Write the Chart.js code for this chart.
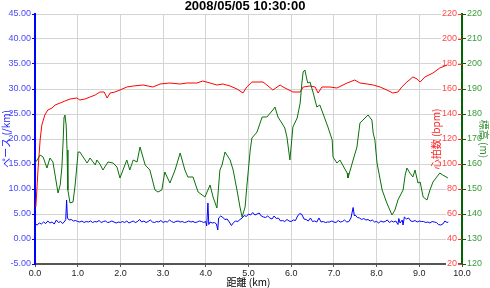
<!DOCTYPE html>
<html>
<head>
<meta charset="utf-8">
<script src="https://cdn.jsdelivr.net/npm/chart.js@4.4.0/dist/chart.umd.min.js"></script>
<style>
html,body{margin:0;padding:0;background:#fff;}
#wrap{width:490px;height:288px;position:relative;}
</style>
</head>
<body>
<div id="wrap"><canvas id="c" width="490" height="288"></canvas></div>
<script>
const chartTitle = '2008/05/05 10:30:00';
const xTitle = '距離 (km)';
const paceTitle = 'ペース (/km)';
const hrTitle = '心拍数 (bpm)';
const elevTitle = '標高 (m)';

// Pace (min/km) series
const paceKm = [0.00,0.01,0.05,0.10,0.15,0.20,0.25,0.30,0.35,0.40,0.45,0.50,0.55,0.60,0.65,0.70,0.72,0.74,0.76,0.80,0.85,0.90,0.95,1.00,1.05,1.10,1.15,1.20,1.25,1.30,1.35,1.40,1.45,1.50,1.55,1.60,1.65,1.70,1.75,1.80,1.85,1.90,1.95,2.00,2.05,2.10,2.15,2.20,2.25,2.30,2.35,2.40,2.45,2.50,2.55,2.60,2.65,2.70,2.75,2.80,2.85,2.90,2.95,3.00,3.05,3.10,3.15,3.20,3.25,3.30,3.35,3.40,3.45,3.50,3.55,3.60,3.65,3.70,3.75,3.80,3.85,3.90,3.95,4.00,4.02,4.05,4.07,4.10,4.15,4.20,4.25,4.28,4.30,4.35,4.40,4.45,4.50,4.55,4.60,4.65,4.70,4.75,4.80,4.85,4.90,4.95,5.00,5.05,5.10,5.15,5.20,5.25,5.30,5.35,5.40,5.45,5.50,5.55,5.60,5.65,5.70,5.75,5.80,5.85,5.90,5.95,6.00,6.05,6.10,6.15,6.20,6.25,6.30,6.35,6.40,6.45,6.50,6.55,6.60,6.65,6.70,6.75,6.80,6.85,6.90,6.95,7.00,7.05,7.10,7.15,7.20,7.25,7.30,7.35,7.40,7.45,7.48,7.50,7.55,7.60,7.65,7.70,7.75,7.80,7.85,7.90,7.95,8.00,8.05,8.10,8.15,8.20,8.25,8.30,8.35,8.40,8.45,8.50,8.52,8.55,8.60,8.62,8.65,8.70,8.75,8.80,8.85,8.90,8.95,9.00,9.05,9.10,9.15,9.20,9.25,9.30,9.35,9.40,9.45,9.50,9.55,9.60,9.65,9.68];
const paceValues = [17.0,3.0,2.8,3.2,3.0,3.4,3.1,3.6,3.2,3.4,3.0,3.8,3.3,3.5,3.1,3.6,3.9,7.8,4.2,3.8,3.9,3.6,3.7,3.5,3.4,3.6,3.3,3.5,3.4,3.6,3.3,3.5,3.4,3.7,3.3,3.5,3.6,3.3,3.4,3.6,3.4,3.2,3.4,3.3,3.5,3.3,3.6,3.2,3.4,3.6,3.3,3.5,3.9,3.4,3.6,3.3,3.5,3.8,3.4,3.3,3.5,3.4,3.7,3.3,3.5,3.4,3.8,3.5,3.3,3.5,3.6,3.4,3.5,3.3,3.4,3.6,3.4,3.5,3.3,3.4,3.6,3.5,3.3,3.5,2.6,7.2,2.9,3.4,3.2,3.3,3.0,1.8,4.2,4.6,4.3,3.9,4.0,3.4,2.7,3.3,3.6,3.5,3.9,4.2,4.7,4.5,5.0,4.8,5.3,4.8,5.0,5.2,4.6,4.4,4.3,4.6,4.2,4.0,4.6,4.1,4.2,3.6,3.7,3.5,3.9,3.6,3.5,3.8,3.7,4.6,5.1,4.9,4.0,3.9,3.6,4.2,3.5,3.6,3.4,4.2,3.4,3.5,3.3,3.4,3.4,3.6,3.4,3.3,3.7,3.4,3.5,3.8,3.4,3.5,4.2,6.3,4.6,4.8,4.3,4.2,3.9,4.1,3.8,3.9,3.6,3.8,3.4,3.5,3.2,3.6,3.4,3.5,3.8,3.3,3.6,3.4,3.6,2.9,4.1,3.2,3.8,2.8,4.4,4.0,4.2,3.6,3.5,3.7,3.4,3.6,3.5,3.5,3.3,3.4,3.2,3.5,3.4,3.3,2.9,2.8,3.0,3.6,3.3,3.4];

// Heart rate (bpm) series
const hrKm = [0.02,0.07,0.12,0.16,0.23,0.30,0.40,0.47,0.59,0.70,0.82,0.98,1.05,1.17,1.29,1.41,1.52,1.62,1.69,1.76,1.87,1.99,2.15,2.30,2.53,2.65,2.76,2.93,3.16,3.40,3.56,3.79,3.93,4.10,4.26,4.40,4.57,4.73,4.87,4.96,5.08,5.34,5.43,5.57,5.74,5.81,6.04,6.21,6.28,6.44,6.56,6.63,6.72,6.91,7.07,7.31,7.49,7.61,7.78,7.92,8.08,8.24,8.38,8.50,8.59,8.71,8.85,8.95,9.02,9.13,9.32,9.48,9.65];
const hrValues = [65.6,95.2,119.2,131.2,139.2,143.2,144.8,147.2,148.8,150.4,152.0,152.8,151.2,152.0,153.6,155.2,157.6,157.6,152.8,156.8,157.6,159.2,161.6,162.4,163.2,162.4,161.6,164.0,164.8,164.0,164.8,164.8,166.4,164.8,163.2,164.0,162.4,160.0,156.8,161.6,165.6,165.6,163.2,159.2,163.2,161.6,157.6,157.6,161.6,162.4,161.6,156.8,161.6,161.6,160.8,164.8,167.2,164.8,164.0,163.2,161.6,159.2,156.8,157.6,161.6,165.6,169.6,168.0,165.6,169.6,172.8,176.8,179.2];

// Elevation (m) series
const elevKm = [0.00,0.05,0.12,0.19,0.28,0.35,0.42,0.47,0.54,0.59,0.63,0.66,0.68,0.70,0.73,0.75,0.77,0.82,0.89,0.94,1.01,1.05,1.22,1.29,1.36,1.41,1.45,1.52,1.59,1.71,1.83,1.92,1.99,2.15,2.22,2.30,2.39,2.46,2.58,2.69,2.81,2.88,2.97,3.04,3.16,3.28,3.40,3.51,3.58,3.70,3.82,3.98,4.10,4.17,4.26,4.33,4.38,4.45,4.57,4.64,4.73,4.80,4.85,4.92,4.96,5.04,5.08,5.20,5.32,5.43,5.57,5.62,5.69,5.78,5.85,5.90,5.97,6.04,6.14,6.21,6.25,6.28,6.32,6.37,6.39,6.44,6.51,6.60,6.67,6.74,6.86,6.96,6.98,7.07,7.14,7.31,7.33,7.45,7.54,7.61,7.80,7.89,7.92,7.96,8.01,8.13,8.24,8.36,8.43,8.50,8.62,8.67,8.71,8.78,8.85,8.90,8.97,9.02,9.09,9.18,9.25,9.32,9.48,9.55,9.67];
const elevValues = [160.4,161.6,163.6,162.8,158.4,162.4,160.8,155.6,148.4,151.6,158.8,169.6,178.8,179.6,175.6,165.6,149.6,144.4,144.8,151.6,164.8,164.8,160.4,162.4,160.8,159.6,161.6,160.0,157.6,160.8,160.4,158.8,154.4,161.6,157.6,161.6,160.8,166.8,159.6,157.6,149.6,148.8,149.6,156.8,152.4,157.6,164.4,157.6,154.8,154.8,148.8,146.8,151.6,146.8,142.4,157.6,159.6,164.8,161.6,157.6,149.6,142.8,138.8,142.8,150.8,165.6,170.4,172.8,178.8,178.8,181.6,182.8,178.8,176.4,174.4,170.8,161.6,174.8,178.4,184.4,192.4,196.8,197.6,193.6,192.4,192.8,188.8,182.8,183.6,180.4,174.8,169.6,162.8,160.4,161.6,156.4,154.4,161.6,166.8,176.4,179.6,177.6,172.4,169.6,160.4,149.6,144.4,139.6,141.6,145.6,149.6,155.6,158.4,156.4,154.8,157.6,152.4,152.8,146.8,145.6,149.6,152.8,156.4,155.6,154.4];

const toPoints = (xs, ys) => xs.map((x, i) => ({x: x, y: ys[i]}));

const tickFont = {family: 'Liberation Sans, Arial, sans-serif', size: 9};
const jpFont = {family: 'Noto Sans CJK JP, sans-serif', size: 10};
const gridColor = '#d4d4d4';

const hrExtras = {
  id: 'hrExtras',
  afterDatasetsDraw(chart) {
    const s = chart.scales.yHR;
    const area = chart.chartArea;
    const ctx = chart.ctx;
    ctx.save();
    ctx.strokeStyle = '#ff3030';
    ctx.lineWidth = 1;
    s.ticks.forEach(t => {
      const y = Math.round(s.getPixelForValue(t.value)) + 0.5;
      ctx.beginPath();
      ctx.moveTo(area.right - 4, y);
      ctx.lineTo(area.right, y);
      ctx.stroke();
    });
    ctx.translate(area.right - 26, (area.top + area.bottom) / 2);
    ctx.rotate(-Math.PI / 2);
    ctx.fillStyle = '#ff2020';
    ctx.font = '10px "Noto Sans CJK JP", sans-serif';
    ctx.textAlign = 'center';
    ctx.textBaseline = 'middle';
    ctx.fillText(hrTitle, 0, 0);
    ctx.restore();
  }
};

new Chart(document.getElementById('c'), {
  type: 'line',
  data: {
    datasets: [
      {label: 'elev', data: toPoints(elevKm, elevValues), yAxisID: 'yElev', borderColor: '#0a700a', borderWidth: 1, pointRadius: 0, tension: 0},
      {label: 'hr', data: toPoints(hrKm, hrValues), yAxisID: 'yHR', borderColor: '#ff0000', borderWidth: 1, pointRadius: 0, tension: 0},
      {label: 'pace', data: toPoints(paceKm, paceValues), yAxisID: 'yPace', borderColor: '#0000ff', borderWidth: 1, pointRadius: 0, tension: 0}
    ]
  },
  options: {
    responsive: false,
    animation: false,
    events: [],
    layout: {padding: 0},
    plugins: {
      legend: {display: false},
      tooltip: {enabled: false},
      title: {
        display: true,
        text: chartTitle,
        color: '#000',
        font: {family: 'Liberation Sans, Arial, sans-serif', size: 13, weight: 'bold', lineHeight: 1},
        padding: {top: 0, bottom: 1}
      }
    },
    scales: {
      x: {
        type: 'linear', min: 0, max: 10,
        ticks: {stepSize: 1, color: '#222', font: tickFont, padding: 1, maxRotation: 0,
                callback: v => Number(v).toFixed(1)},
        grid: {color: gridColor, tickColor: '#555', tickLength: 3},
        border: {color: '#555', width: 2},
        title: {display: true, text: xTitle, color: '#000', font: jpFont, padding: 0},
        afterFit: s => { s.height = 24; }
      },
      yPace: {
        position: 'left', min: -5, max: 45,
        ticks: {stepSize: 5, color: '#4848ff', font: tickFont, padding: 1,
                callback: v => Number(v).toFixed(2)},
        grid: {color: gridColor, tickColor: '#0000ff', tickLength: 3},
        border: {color: '#0000ff', width: 2},
        title: {display: true, text: paceTitle, color: '#2020ff', font: jpFont, padding: 0},
        afterFit: s => { s.width = 35; }
      },
      yHR: {
        position: 'right', weight: 0, min: 20, max: 220,
        ticks: {stepSize: 20, color: '#ff4848', font: tickFont, mirror: true, padding: -5,
                showLabelBackdrop: true, backdropColor: '#ffffff', backdropPadding: {top: 0, bottom: 0, left: 1, right: 1}},
        grid: {display: false},
        border: {display: false},
        afterFit: s => { s.width = 0; }
      },
      yElev: {
        position: 'right', weight: 1, min: 120, max: 220,
        ticks: {stepSize: 10, color: '#3a9a3a', font: tickFont, padding: 1},
        grid: {drawOnChartArea: false, tickColor: '#006400', tickLength: 4},
        border: {color: '#006400', width: 2},
        title: {display: true, text: elevTitle, color: '#2a8a2a', font: jpFont, padding: 0},
        afterFit: s => { s.width = 28; }
      }
    }
  },
  plugins: [hrExtras]
});
</script>
</body>
</html>
